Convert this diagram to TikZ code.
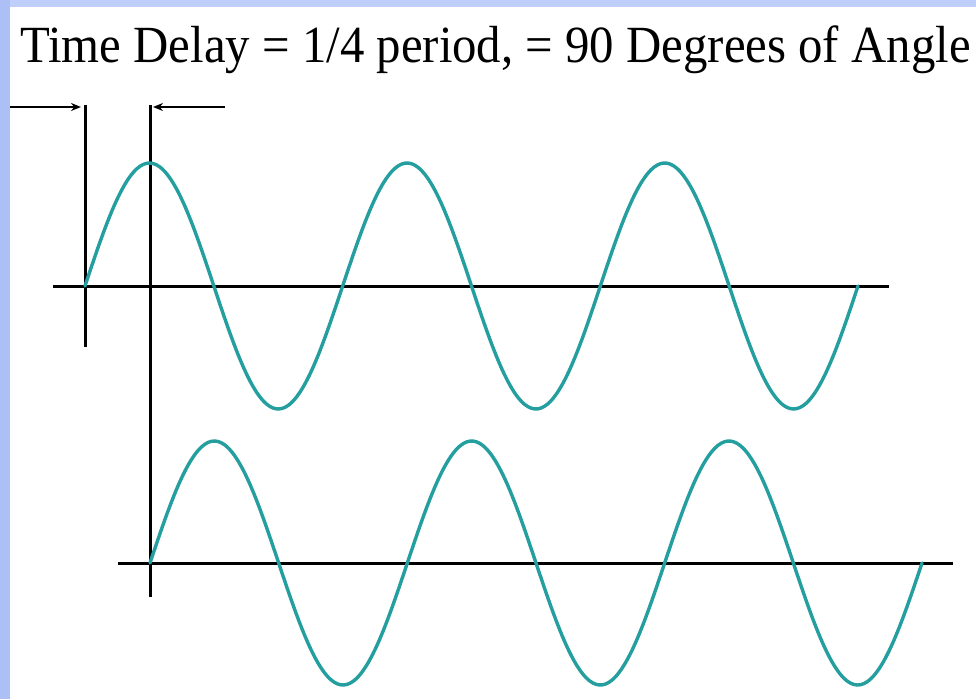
\documentclass[tikz,border=0pt]{standalone}
\usepackage{fontspec}
\setmainfont{Liberation Serif}
\usetikzlibrary{arrows.meta}
\definecolor{bandtop}{RGB}{192,206,250}
\definecolor{bandleft}{RGB}{172,192,245}
\definecolor{wave}{RGB}{36,158,158}
\tikzset{
  axisline/.style={black, line width=3pt},
  waveline/.style={wave, line width=3.4pt, line join=round, line cap=round},
  delayarrow/.style={black, line width=2.8pt, -{Stealth[length=10pt,width=8pt]}}
}
\begin{document}
\begin{tikzpicture}[x=1pt,y=-1pt]
\useasboundingbox (0,0) rectangle (976,699);
\fill[white] (0,0) rectangle (976,699);
\fill[bandtop] (0,0) rectangle (976,7);
\fill[bandleft] (0,0) rectangle (10,699);
% title
\node[anchor=base west, inner sep=0pt] (title) at (20,62)
  {\fontsize{48.8}{58}\selectfont\scalebox{1}[1.07]{Time Delay = 1/4 period, = 90 Degrees of Angle}};
% coordinates
\coordinate (v1top) at (85,105);
\coordinate (v1bot) at (85,347);
\coordinate (v2top) at (150,105);
\coordinate (v2bot) at (150,597);
\coordinate (arrL) at (10,107);
\coordinate (arrLend) at (81,107);
\coordinate (arrR) at (225,107);
\coordinate (arrRend) at (153,107);
% axes
\draw[axisline] (53,286) -- (889,286);
\draw[axisline] (118,563) -- (953,563);
\draw[axisline] (v1top) -- (v1bot);
\draw[axisline] (v2top) -- (v2bot);
% waves
\draw[waveline] plot[domain=0:1080, samples=240, smooth] ({85+\x/1080*773},{286-123*sin(\x)});
\draw[waveline] plot[domain=0:1080, samples=240, smooth] ({150+\x/1080*772},{563-122*sin(\x)});
% delay arrows
\draw[delayarrow] (arrL) -- (arrLend);
\draw[delayarrow] (arrR) -- (arrRend);
\end{tikzpicture}
\end{document}
